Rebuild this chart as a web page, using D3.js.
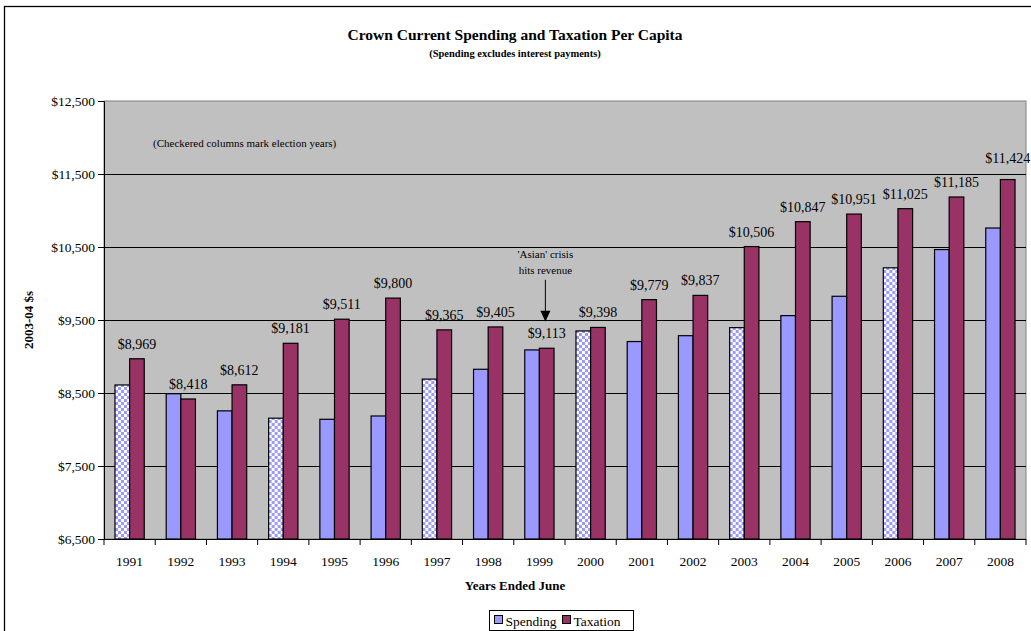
<!DOCTYPE html>
<html>
<head>
<meta charset="utf-8">
<script src="https://cdn.jsdelivr.net/npm/d3@7"></script>
<style>
  html, body { margin: 0; padding: 0; background: #fff; }
  svg { display: block; font-family: "Liberation Serif", "Times New Roman", serif; }
</style>
</head>
<body>
<svg id="chart" width="1031" height="631"></svg>
<script>
// Fiscal years ended June
const years = ["1991","1992","1993","1994","1995","1996","1997","1998","1999",
               "2000","2001","2002","2003","2004","2005","2006","2007","2008"];
// Crown current spending per capita, excluding interest (2003-04 dollars)
const spending = [8610, 8490, 8255, 8155, 8140, 8185, 8690, 8825, 9090,
                  9350, 9205, 9285, 9395, 9560, 9825, 10215, 10465, 10760];
// Crown taxation per capita (2003-04 dollars)
const taxation = [8969, 8418, 8612, 9181, 9511, 9800, 9365, 9405, 9113,
                  9398, 9779, 9837, 10506, 10847, 10951, 11025, 11185, 11424];
// Years whose spending column is drawn checkered
const electionYears = ["1991","1994","1997","2000","2003","2006"];
const yTicks = [6500, 7500, 8500, 9500, 10500, 11500, 12500];
const seriesNames = ["Spending", "Taxation"];

const colors = { Spending: "#9999FF", Taxation: "#993366" };

const svg = d3.select("#chart");
const plot = { left: 104, right: 1026, top: 101, bottom: 539 };

// outer chart frame
svg.append("rect")
  .attr("x", 4.5).attr("y", 6.5)
  .attr("width", 1040).attr("height", 640)
  .attr("fill", "#fff").attr("stroke", "#000").attr("stroke-width", 1.3);

// checkered fill for election-year columns
const defs = svg.append("defs");
const pat = defs.append("pattern")
  .attr("id", "checker").attr("patternUnits", "userSpaceOnUse")
  .attr("width", 6).attr("height", 6);
pat.append("rect").attr("width", 6).attr("height", 6).attr("fill", "#fff");
pat.append("rect").attr("width", 3).attr("height", 3).attr("fill", colors.Spending);
pat.append("rect").attr("x", 3).attr("y", 3).attr("width", 3).attr("height", 3).attr("fill", colors.Spending);

const x0 = d3.scaleBand().domain(years).range([plot.left, plot.right]).padding(0);
const barW = x0.bandwidth() / 3.5;
const x1 = d3.scaleBand().domain(seriesNames).range([0, barW * 2]).padding(0);
const groupOffset = (x0.bandwidth() - barW * 2) / 2;
const y = d3.scaleLinear().domain([6500, 12500]).range([plot.bottom, plot.top]);

// plot background
svg.append("rect")
  .attr("x", plot.left).attr("y", plot.top)
  .attr("width", plot.right - plot.left).attr("height", plot.bottom - plot.top)
  .attr("fill", "#C0C0C0").attr("stroke", "#808080").attr("stroke-width", 1);

// horizontal gridlines
svg.append("g").selectAll("line")
  .data(yTicks.filter(t => t > 6500 && t < 12500))
  .join("line")
  .attr("x1", plot.left).attr("x2", plot.right)
  .attr("y1", d => Math.round(y(d)) + 0.5).attr("y2", d => Math.round(y(d)) + 0.5)
  .attr("stroke", "#000").attr("stroke-width", 1);

// bars
const rows = years.map((yr, i) => ({ year: yr, Spending: spending[i], Taxation: taxation[i] }));
const groups = svg.append("g").selectAll("g")
  .data(rows).join("g")
  .attr("transform", d => `translate(${x0(d.year) + groupOffset},0)`);

groups.selectAll("rect")
  .data(d => seriesNames.map(s => ({ year: d.year, key: s, value: d[s] })))
  .join("rect")
  .attr("x", d => x1(d.key))
  .attr("y", d => y(d.value))
  .attr("width", x1.bandwidth())
  .attr("height", d => y(6500) - y(d.value))
  .attr("fill", d => d.key === "Spending" && electionYears.includes(d.year) ? "url(#checker)" : colors[d.key])
  .attr("stroke", "#000").attr("stroke-width", 1.2);

// taxation value labels
const fmt = d3.format("$,");
groups.append("text")
  .attr("x", x1("Taxation") + x1.bandwidth() / 2)
  .attr("y", d => y(d.Taxation) - (d.year === "2008" ? 17 : 10))
  .attr("text-anchor", "middle")
  .attr("font-size", "14px").attr("fill", "#000")
  .text(d => fmt(d.Taxation));

// left axis
const yAxis = d3.axisLeft(y).tickValues(yTicks).tickSize(6).tickPadding(3)
  .tickFormat(d3.format("$,"));
const gy = svg.append("g").attr("transform", `translate(${plot.left},0)`).call(yAxis);
gy.select(".domain").attr("stroke", "#000");
gy.selectAll(".tick line").attr("stroke", "#000");
gy.selectAll("text").attr("font-size", "13.5px").attr("fill", "#000")
  .attr("font-family", "Liberation Serif, Times New Roman, serif");

// bottom axis with ticks between categories
svg.append("line")
  .attr("x1", plot.left).attr("x2", plot.right)
  .attr("y1", plot.bottom + 0.5).attr("y2", plot.bottom + 0.5)
  .attr("stroke", "#000");
svg.append("g").selectAll("line")
  .data(years.concat(["end"]))
  .join("line")
  .attr("x1", (d, i) => plot.left + i * x0.step())
  .attr("x2", (d, i) => plot.left + i * x0.step())
  .attr("y1", plot.bottom).attr("y2", plot.bottom + 6)
  .attr("stroke", "#000");
svg.append("g").selectAll("text")
  .data(years).join("text")
  .attr("x", d => x0(d) + x0.bandwidth() / 2)
  .attr("y", 566)
  .attr("text-anchor", "middle")
  .attr("font-size", "13.5px")
  .text(d => d);

// titles
svg.append("text").attr("x", 515).attr("y", 40).attr("text-anchor", "middle")
  .attr("font-size", "15.5px").attr("font-weight", "bold")
  .text("Crown Current Spending and Taxation Per Capita");
svg.append("text").attr("x", 515).attr("y", 57).attr("text-anchor", "middle")
  .attr("font-size", "10.5px").attr("font-weight", "bold")
  .text("(Spending excludes interest payments)");
svg.append("text").attr("x", 515).attr("y", 590).attr("text-anchor", "middle")
  .attr("font-size", "13px").attr("font-weight", "bold")
  .text("Years Ended June");
svg.append("text")
  .attr("transform", "translate(33,320) rotate(-90)")
  .attr("text-anchor", "middle")
  .attr("font-size", "13px").attr("font-weight", "bold")
  .text("2003-04 $s");

// notes inside plot
svg.append("text").attr("x", 153).attr("y", 147)
  .attr("font-size", "11px")
  .text("(Checkered columns mark election years)");

const arrowX = x0("1999") + x0.bandwidth() / 2 + 6;
const tipY = y(9475);
const note = svg.append("text").attr("text-anchor", "middle").attr("font-size", "11px");
note.append("tspan").attr("x", arrowX).attr("y", tipY - 64).text("'Asian' crisis");
note.append("tspan").attr("x", arrowX).attr("y", tipY - 48).text("hits revenue");
svg.append("line")
  .attr("x1", arrowX).attr("x2", arrowX)
  .attr("y1", tipY - 42).attr("y2", tipY - 8)
  .attr("stroke", "#000").attr("stroke-width", 1);
svg.append("path")
  .attr("d", `M${arrowX - 5},${tipY - 11} L${arrowX + 5},${tipY - 11} L${arrowX},${tipY} Z`)
  .attr("fill", "#000");

// legend
const lg = svg.append("g").attr("transform", "translate(489.5,610.5)");
lg.append("rect").attr("width", 144).attr("height", 20)
  .attr("fill", "#fff").attr("stroke", "#000").attr("stroke-width", 1);
const items = lg.selectAll("g").data(seriesNames).join("g")
  .attr("transform", (d, i) => `translate(${i === 0 ? 5 : 73},0)`);
items.append("rect").attr("x", 0).attr("y", 5).attr("width", 8).attr("height", 8)
  .attr("fill", d => colors[d]).attr("stroke", "#000").attr("stroke-width", 1);
items.append("text").attr("x", 11).attr("y", 15).attr("font-size", "13.5px").text(d => d);
</script>
</body>
</html>
